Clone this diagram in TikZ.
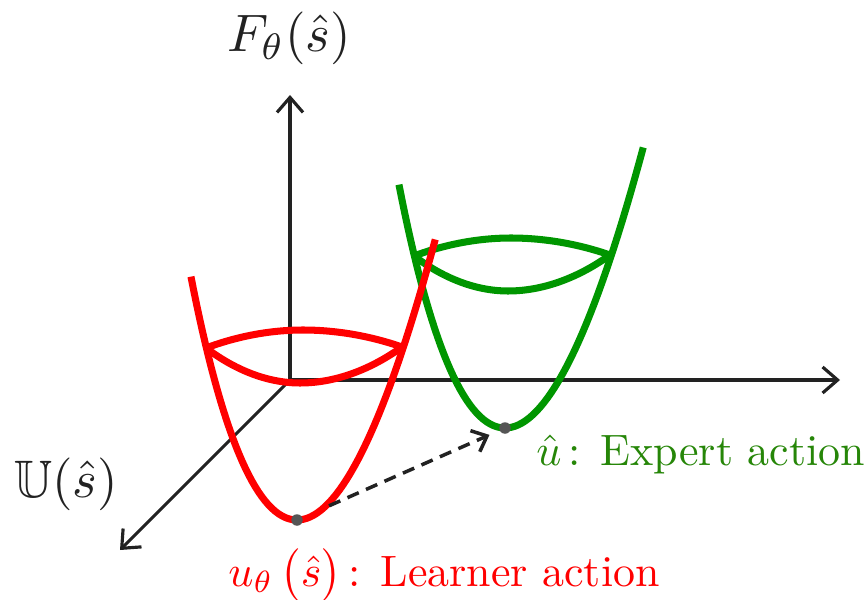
\documentclass[tikz,border=0pt]{standalone}
\usepackage{amssymb}
\usepackage{graphicx}
\usepackage{tikz}
\usetikzlibrary{arrows.meta, positioning, calc}
\definecolor{lrnred}{RGB}{255,0,0}
\definecolor{expgreen}{RGB}{0,150,0}
\definecolor{exptext}{RGB}{38,134,8}
\definecolor{axisgray}{RGB}{34,34,34}
\definecolor{dotgray}{RGB}{85,85,85}

\tikzset{
  bowl/.pic={
    % tilted parabola with its level set
    \draw[bowlline] plot[domain=-15.6:16.75, samples=70, variable=\u]
      ({297+7.5*\u+0.045*\u*\u}, {520-\u*\u});
    \draw[bowlline] (206,348) parabola bend (303,330) (402,347);
    \draw[bowlline] (206,348) parabola bend (300,383) (402,347);
    \coordinate (-tip) at (297,520);
  }
}

\begin{document}
\begin{tikzpicture}[
      x=0.2mm, y=-0.2mm,
      >=Latex,
      axis/.style={
        draw=axisgray,
        line width=1.8pt,
        -{Straight Barb[length=3mm,width=5.2mm]}
      },
      bowlline/.style={
        line width=4pt
      },
      guess/.style={
        draw=axisgray,
        dashed,
        dash pattern=on 7pt off 4.5pt,
        line width=2pt,
        -{Straight Barb[length=2.6mm,width=4.6mm]},
        shorten <=7mm,
        shorten >=3.4mm
      },
      tipdot/.style={fill=dotgray},
      axislabel/.style={text=axisgray, inner sep=0pt},
      actlabel/.style={inner sep=0pt}
    ]
    \useasboundingbox (0,0) rectangle (867,600);

    % Axes
    \coordinate (O) at (290,380);
    \coordinate (Ftop) at (290,95);
    \coordinate (Uend) at (840,380);
    \coordinate (Sdiag) at (120,550);
    \draw[axis] (O) -- (Ftop);
    \draw[axis] (O) -- (Uend);
    \draw[axis] (O) -- (Sdiag);

    \node[axislabel, anchor=base] (Flabel) at (289,52) {\scalebox{3}{$F_\theta(\hat{s})$}};
    \node[axislabel, anchor=base] (Ulabel) at (66,497) {\scalebox{3}{$\mathbb{U}(\hat{s})$}};

    % Expert and learner bowls
    \pic (exp) [expgreen] at (208,-92) {bowl};
    \pic (lrn) [lrnred] at (0,0) {bowl};

    % Actions
    \draw[guess] (lrn-tip) -- (exp-tip);
    \fill[tipdot] (lrn-tip) circle[radius=1.15mm];
    \fill[tipdot] (exp-tip) circle[radius=1.15mm];

    \node[actlabel, text=lrnred, anchor=base west] (lrnlabel) at (228,586)
      {\scalebox{2.5}{$u_\theta\,\bigl(\hat{s}\bigr)$\,: Learner action}};
    \node[actlabel, text=exptext, anchor=base west] (explabel) at (536,465)
      {\scalebox{2.5}{$\hat{u}$\,: Expert action}};

  \end{tikzpicture}
\end{document}
